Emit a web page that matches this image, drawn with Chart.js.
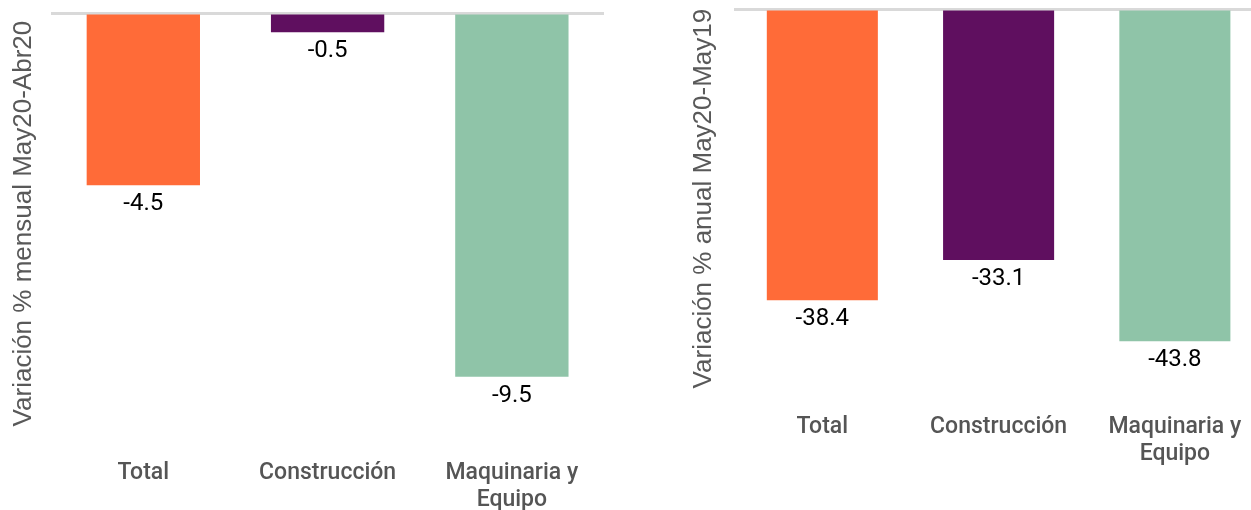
<!DOCTYPE html>
<html>
<head>
<meta charset="utf-8">
<script src="https://cdn.jsdelivr.net/npm/chart.js@4"></script>
<style>
  html, body { margin: 0; padding: 0; background: #fff; overflow: hidden; }
  .box { position: absolute; top: 0; }
  #left { left: 0; width: 625px; height: 532px; }
  #right { left: 680px; width: 590px; height: 510px; }
</style>
</head>
<body>
<div class="box" id="left"><canvas id="c1" width="625" height="532"></canvas></div>
<div class="box" id="right"><canvas id="c2" width="590" height="510"></canvas></div>
<script>
// categories and values
const categories = ['Total', 'Construcción', ['Maquinaria y', 'Equipo']]
const mensual = [-4.5, -0.5, -9.5]
const anual = [-38.4, -33.1, -43.8]
const barColors = ['#FF6B38', '#5F0F5F', '#8FC4A8']

const titleMensual = 'Variación % mensual May20-Abr20'
const titleAnual = 'Variación % anual May20-May19'

// draws the value under the end of each bar
const valueLabels = {
    id: 'valueLabels',
    afterDatasetsDraw(chart) {
        const ctx = chart.ctx
        const meta = chart.getDatasetMeta(0)
        const data = chart.data.datasets[0].data
        ctx.save()
        ctx.font = '24px Roboto'
        ctx.fillStyle = '#000'
        ctx.textAlign = 'center'
        ctx.textBaseline = 'middle'
        meta.data.forEach((bar, i) => {
            ctx.fillText(data[i].toFixed(1), bar.x, bar.y + 19)
        })
        ctx.restore()
    }
}

/**
 * @param {HTMLCanvasElement} canvas
 * @param {number[]} values
 * @param {string} title
 * @param {object} o layout tweaks
 */
function makeChart(canvas, values, title, o) {
    return new Chart(canvas.getContext('2d'), {
        type: 'bar',
        data: {
            labels: categories,
            datasets: [{
                data: values,
                backgroundColor: barColors,
                barPercentage: o.barPct,
                categoryPercentage: 1
            }]
        },
        options: {
            responsive: false,
            animation: false,
            layout: { padding: o.padding },
            plugins: { legend: { display: false }, tooltip: { enabled: false } },
            scales: {
                x: {
                    grid: { display: false },
                    border: { display: false },
                    ticks: {
                        color: '#555',
                        padding: 18,
                        maxRotation: 0,
                        autoSkip: false,
                        font: { family: 'Roboto', size: 23, weight: 500, lineHeight: 1.17 }
                    }
                },
                y: {
                    min: o.min,
                    max: 0,
                    border: { display: false },
                    grid: {
                        drawTicks: false,
                        lineWidth: 3,
                        color: c => c.tick && c.tick.value === 0 ? '#d9d9d9' : 'rgba(0,0,0,0)'
                    },
                    ticks: { display: false },
                    title: {
                        display: true,
                        text: title,
                        color: '#595959',
                        padding: { top: 8, bottom: o.titleGap },
                        font: { family: 'Liberation Sans', size: 26, lineHeight: 1.2 }
                    }
                }
            }
        },
        plugins: [valueLabels]
    })
}

makeChart(document.getElementById('c1'), mensual, titleMensual, {
    min: -11, barPct: 0.615, titleGap: 12,
    padding: { left: 0, right: 21, top: 13, bottom: 0 }
})

makeChart(document.getElementById('c2'), anual, titleAnual, {
    min: -50, barPct: 0.63, titleGap: 15,
    padding: { left: 0, right: 7, top: 9, bottom: 24 }
})
</script>
</body>
</html>
